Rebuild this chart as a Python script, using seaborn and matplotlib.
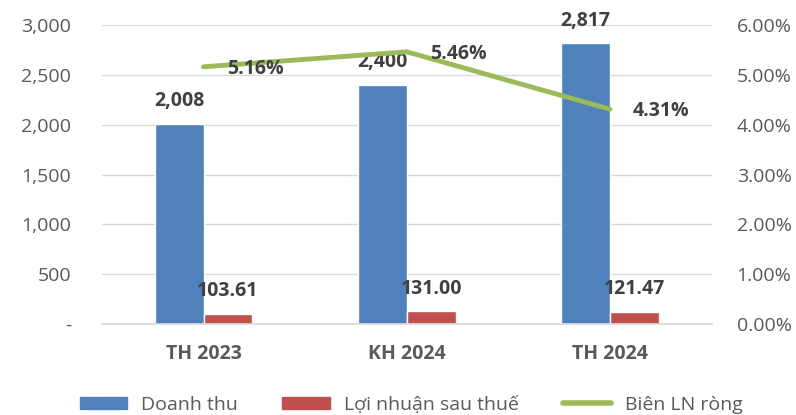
import pandas as pd
import matplotlib
matplotlib.use('Agg')
import matplotlib.pyplot as plt
import seaborn as sns
from matplotlib.ticker import FuncFormatter
from matplotlib.patches import Patch
from matplotlib.lines import Line2D

# Dữ liệu
nam = ['TH 2023', 'KH 2024', 'TH 2024']
doanh_thu = [2008, 2400, 2817]
loi_nhuan = [103.61, 131.00, 121.47]
bien_ln = [5.16, 5.46, 4.31]

df = pd.DataFrame({
    'Nam': nam * 2,
    'GiaTri': doanh_thu + loi_nhuan,
    'Loai': ['Doanh thu'] * 3 + ['Lợi nhuận sau thuế'] * 3,
})

sns.set_theme(style='white')
plt.rcParams['font.family'] = ['Open Sans', 'DejaVu Sans']

xanh = '#4F81BD'
do = '#C0504D'
la = '#9BBB59'
xam = '#595959'
dam = '#404040'

fig = plt.figure(figsize=(7.96, 4.15), dpi=100)
ax = fig.add_axes([0.128, 0.219, 0.766, 0.721])

sns.barplot(data=df, x='Nam', y='GiaTri', hue='Loai', palette=[xanh, do],
            width=0.48, gap=0, ax=ax, legend=False, saturation=1)

ax.set_ylim(0, 3000)
ax.set_yticks(range(0, 3001, 500))
ax.yaxis.set_major_formatter(FuncFormatter(lambda v, p: '-' if v == 0 else f'{v:,.0f}'))
ax.set_xlabel('')
ax.set_ylabel('')
ax.grid(axis='y', color='#D9D9D9', linewidth=1)
ax.set_axisbelow(True)
for s in ['top', 'right', 'left']:
    ax.spines[s].set_visible(False)
ax.spines['bottom'].set_color('#D9D9D9')
ax.tick_params(axis='y', length=0, labelsize=14, labelcolor=xam, pad=22)
ax.tick_params(axis='x', length=0, labelsize=14, labelcolor=xam, pad=14)
for t in ax.get_xticklabels():
    t.set_fontweight('bold')

# Nhãn cột
for cont, fmt in zip(ax.containers, ['{:,.0f}', '{:,.2f}']):
    ax.bar_label(cont, labels=[fmt.format(v) for v in cont.datavalues],
                 padding=9, fontsize=14, fontweight='bold', color=dam)

# Đường biên LN
ax2 = ax.twinx()
sns.lineplot(x=[0, 1, 2], y=bien_ln, color=la, linewidth=3.5, ax=ax2,
             solid_capstyle='round')
ax2.set_ylim(0, 6)
ax2.set_yticks(range(0, 7))
ax2.yaxis.set_major_formatter(FuncFormatter(lambda v, p: f'{v:.2f}%'))
ax2.tick_params(axis='y', length=0, labelsize=14, labelcolor=xam, pad=18)
for s in ax2.spines.values():
    s.set_visible(False)
ax2.grid(False)
for i, v in enumerate(bien_ln):
    ax2.annotate(f'{v:.2f}%', (i, v), xytext=(37, -1.5), textcoords='offset points',
                 ha='center', va='center', fontsize=14, fontweight='bold', color=dam)
ax.set_xlim(-0.5, 2.5)

# Chú thích
handles = [Patch(color=xanh), Patch(color=do), Line2D([], [], color=la, linewidth=4, solid_capstyle='round')]
fig.legend(handles, ['Doanh thu', 'Lợi nhuận sau thuế', 'Biên LN ròng'],
           loc='center left', bbox_to_anchor=(70 / 796, 1 - 405 / 415), ncol=3,
           frameon=False, fontsize=14, handlelength=2.45, handleheight=0.6,
           handletextpad=0.7, columnspacing=2.3, borderpad=0, labelcolor=xam)

fig.savefig('out.png', dpi=100)
